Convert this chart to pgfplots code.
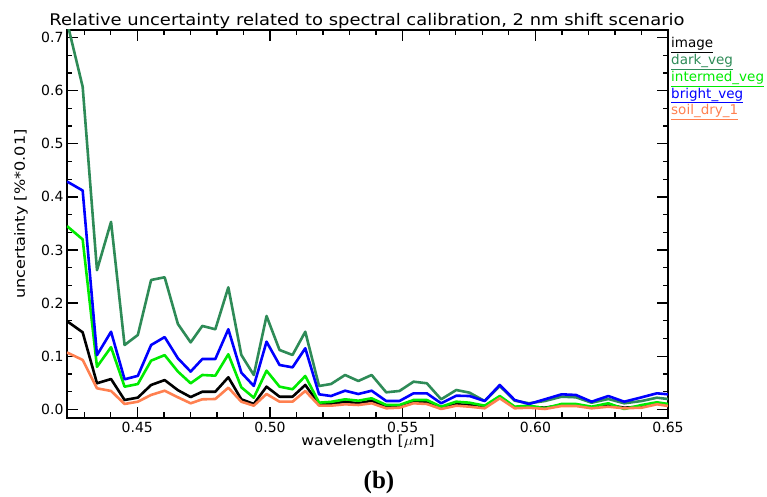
\documentclass[border=0pt]{standalone}
\usepackage{fontspec}
\setmainfont{DejaVu Sans}
\newfontfamily\capfont{Liberation Serif}
\usepackage{graphicx}
\usepackage{pgfplots}
\usepackage{pgfplotstable}
\pgfplotsset{compat=1.18}
\definecolor{darkveg}{RGB}{46,139,87}
\definecolor{intveg}{RGB}{0,235,0}
\definecolor{brightveg}{RGB}{0,0,255}
\definecolor{soil}{RGB}{255,128,80}
\pgfplotstableread{
x img dark inter bright soil
0.4235 0.166 0.73 0.345 0.429 0.107
0.4294 0.145 0.6075 0.320 0.412 0.093
0.4348 0.049 0.262 0.080 0.102 0.0395
0.4401 0.057 0.353 0.117 0.146 0.0345
0.4452 0.0175 0.121 0.0426 0.0565 0.010
0.4502 0.022 0.140 0.0476 0.063 0.0143
0.4552 0.0458 0.2435 0.0916 0.121 0.027
0.4603 0.055 0.2486 0.102 0.136 0.035
0.4653 0.036 0.1606 0.071 0.096 0.0226
0.4701 0.023 0.126 0.049 0.071 0.0113
0.4745 0.0331 0.157 0.0646 0.0947 0.0188
0.4794 0.0331 0.1507 0.0633 0.0947 0.0194
0.4843 0.0603 0.2297 0.1036 0.1507 0.0407
0.4892 0.0188 0.1023 0.0414 0.069 0.0143
0.4939 0.010 0.0646 0.0218 0.0439 0.0068
0.4987 0.0426 0.1757 0.0727 0.1273 0.0288
0.5036 0.0237 0.1117 0.0426 0.0834 0.0143
0.5085 0.0237 0.1023 0.0377 0.079 0.0143
0.5133 0.0458 0.146 0.0627 0.1149 0.0345
0.5185 0.0095 0.0439 0.0125 0.0282 0.007
0.5230 0.010 0.0476 0.014 0.025 0.0068
0.5283 0.0143 0.0646 0.0188 0.035 0.0094
0.5333 0.0113 0.0533 0.0162 0.0288 0.0081
0.5383 0.0162 0.0646 0.0207 0.035 0.0113
0.5438 0.0049 0.032 0.0081 0.0156 0.0019
0.5488 0.0062 0.0345 0.0081 0.0156 0.003
0.5541 0.0143 0.052 0.0175 0.0301 0.0113
0.5591 0.0132 0.049 0.0175 0.0301 0.010
0.5645 0.003 0.0188 0.0049 0.0113 0.0006
0.5702 0.0094 0.0363 0.0143 0.0256 0.0068
0.5752 0.0081 0.0313 0.0124 0.025 0.0049
0.5809 0.0049 0.0156 0.0068 0.0156 0.0019
0.5866 0.023 0.0439 0.025 0.0458 0.0207
0.5922 0.004 0.0162 0.0049 0.0175 0.0019
0.5976 0.005 0.0113 0.0068 0.010 0.003
0.6036 0.003 0.0156 0.0019 0.0188 0.0006
0.6099 0.008 0.0237 0.010 0.0282 0.0062
0.6153 0.008 0.0226 0.010 0.027 0.0062
0.6212 0.004 0.0124 0.0049 0.0143 0.0019
0.6275 0.008 0.0194 0.0113 0.025 0.0049
0.6335 0.003 0.0113 0.0006 0.0143 0.0019
0.6401 0.005 0.0156 0.0081 0.0226 0.003
0.6458 0.011 0.0218 0.0132 0.0301 0.0094
0.6500 0.008 0.0194 0.010 0.0282 0.0062
}\data
\begin{document}
\begin{tikzpicture}
\useasboundingbox (-67pt,-79pt) rectangle (700pt,418pt);
\begin{axis}[
  name=ax, at={(0pt,0pt)}, anchor=south west,
  scale only axis, width=601pt, height=388pt,
  xmin=0.4235, xmax=0.65, ymin=-0.0164, ymax=0.7143,
  xtick={0.45,0.50,0.55,0.60,0.65},
  minor xtick={0.43,0.44,0.46,0.47,0.48,0.49,0.51,0.52,0.53,0.54,0.56,0.57,0.58,0.59,0.61,0.62,0.63,0.64},
  ytick={0,0.1,0.2,0.3,0.4,0.5,0.6,0.7},
  minor ytick={0.03333,0.06667,0.13333,0.16667,0.23333,0.26667,0.33333,0.36667,0.43333,0.46667,0.53333,0.56667,0.63333,0.66667},
  xticklabel style={inner sep=0pt, yshift=-3.5pt, /pgf/number format/.cd, fixed, fixed zerofill, precision=2},
  yticklabel style={/pgf/number format/.cd, fixed, fixed zerofill, precision=1},
  /pgf/number format/assume math mode=true,
  tick label style={font=\fontsize{14}{16}\selectfont},
  scaled ticks=false,
  tick align=inside,
  major tick length=11pt, minor tick length=5.5pt,
  every tick/.style={black, line width=1.3pt},
  axis line style={line width=1.8pt},
  every axis plot/.append style={line width=2.6pt, line join=round},
]
\addplot[black, no marks] table[x=x, y=img] {\data};
\addplot[darkveg, no marks] table[x=x, y=dark] {\data};
\addplot[intveg, no marks] table[x=x, y=inter] {\data};
\addplot[brightveg, no marks] table[x=x, y=bright] {\data};
\addplot[soil, no marks] table[x=x, y=soil] {\data};
\end{axis}
\node[anchor=base] at (300pt,392.5pt) {\fontsize{16}{18}\selectfont\scalebox{1.12}[1]{Relative uncertainty related to spectral calibration, 2 nm shift scenario}};
\node[anchor=base, inner sep=0pt] at (301pt,-27.5pt) {\fontsize{14}{16}\selectfont\scalebox{1.12}[1]{wavelength [$\mu$m]}};
\node[anchor=base, rotate=90] at (-42pt,204pt) {\fontsize{14}{16}\selectfont\scalebox{1.15}[1]{uncertainty [\%*0.01]}};
\begin{scope}[every node/.style={anchor=base west, inner sep=0pt, font=\fontsize{13.5}{15}\selectfont}]
\node[text=black] at (604pt,370pt) {\underline{image}};
\node[text=darkveg] at (604pt,353.3pt) {\underline{dark\_veg}};
\node[text=intveg] at (604pt,336.6pt) {\underline{intermed\_veg}};
\node[text=brightveg] at (604pt,319.9pt) {\underline{bright\_veg}};
\node[text=soil] at (604pt,303.2pt) {\underline{soil\_dry\_1}};
\end{scope}
\node[anchor=base] at (312pt,-70pt) {\capfont\bfseries\fontsize{25}{28}\selectfont (b)};
\end{tikzpicture}
\end{document}
